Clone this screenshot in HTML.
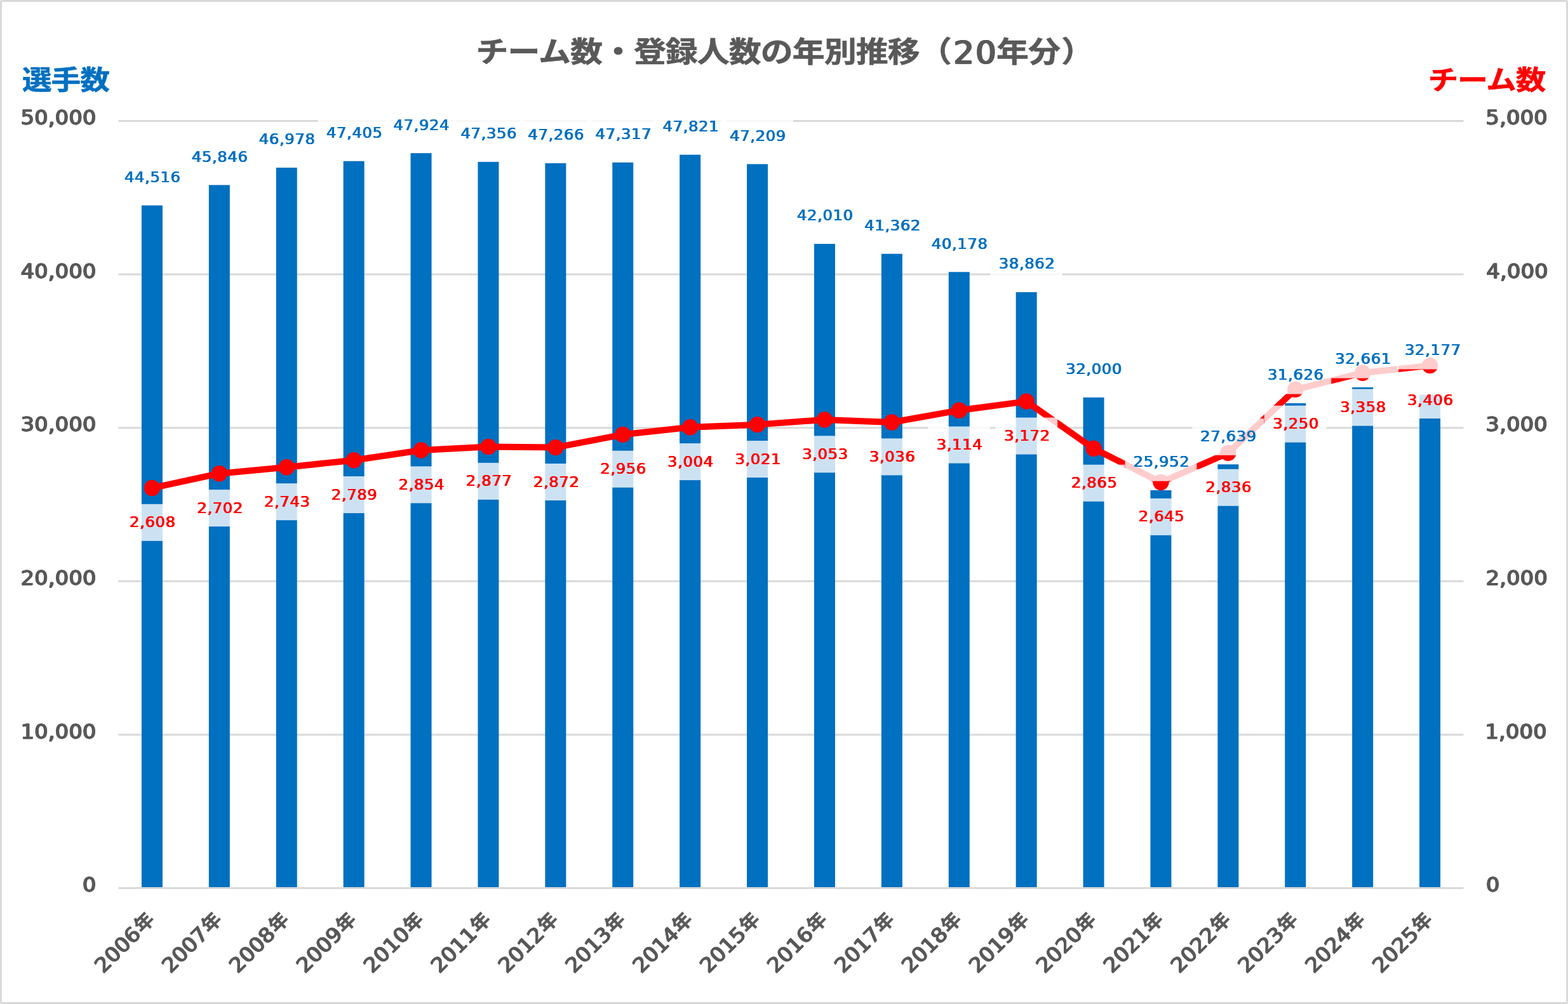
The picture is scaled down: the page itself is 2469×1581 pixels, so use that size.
<!DOCTYPE html>
<html lang="ja">
<head>
<meta charset="utf-8">
<title>チーム数・登録人数の年別推移（20年分）</title>
<style>
html,body{margin:0;padding:0;background:#fff;overflow:hidden}
svg{display:block}
.lab{font-family:"DejaVu Sans","Liberation Sans",sans-serif;font-weight:normal;font-size:23.4px;letter-spacing:0.57px;text-shadow:0.53px 0 0 currentColor,1.06px 0 0 currentColor;}
.ax{font-family:"DejaVu Sans","Liberation Sans",sans-serif;font-weight:normal;font-size:31.9px;letter-spacing:0.32px;text-shadow:0.51px 0 0 currentColor,1.01px 0 0 currentColor;stroke:currentColor;stroke-width:0.85px;stroke-linejoin:round;}
.td{font-family:"DejaVu Sans","Liberation Sans",sans-serif;font-weight:normal;font-size:49.6px;letter-spacing:2.34px;text-shadow:0.98px 0 0 currentColor,1.95px 0 0 currentColor;stroke:currentColor;stroke-width:0.8px;stroke-linejoin:round;}
.j{font-family:"Liberation Sans","Noto Sans CJK JP",sans-serif;font-weight:bold}
.blue{fill:#0070C0;color:#0070C0}
.red{fill:#FF0000;color:#FF0000}
.gray{fill:#595959;color:#595959}
.box{fill:#fff;fill-opacity:0.8}
</style>
</head>
<body>
<svg width="2469" height="1581" viewBox="0 0 2469 1581">
<rect x="0" y="0" width="2469" height="1581" fill="#fff"/>
<rect x="1.45" y="1.45" width="2466.1" height="1578.1" rx="1.2" fill="none" stroke="#D9D9D9" stroke-width="2.9"/>
<g stroke="#D9D9D9" stroke-width="3.0">
<line x1="186.5" y1="190.5" x2="2304.5" y2="190.5"/>
<line x1="186.5" y1="432.1" x2="2304.5" y2="432.1"/>
<line x1="186.5" y1="673.7" x2="2304.5" y2="673.7"/>
<line x1="186.5" y1="915.3" x2="2304.5" y2="915.3"/>
<line x1="186.5" y1="1156.9" x2="2304.5" y2="1156.9"/>
<line x1="186.5" y1="1398.5" x2="2304.5" y2="1398.5"/>
</g>
<g fill="#0070C0">
<rect x="222.95" y="323.49" width="33.0" height="1073.51"/>
<rect x="328.85" y="291.36" width="33.0" height="1105.64"/>
<rect x="434.75" y="264.01" width="33.0" height="1132.99"/>
<rect x="540.65" y="253.7" width="33.0" height="1143.3"/>
<rect x="646.55" y="241.16" width="33.0" height="1155.84"/>
<rect x="752.45" y="254.88" width="33.0" height="1142.12"/>
<rect x="858.35" y="257.05" width="33.0" height="1139.95"/>
<rect x="964.25" y="255.82" width="33.0" height="1141.18"/>
<rect x="1070.15" y="243.64" width="33.0" height="1153.36"/>
<rect x="1176.05" y="258.43" width="33.0" height="1138.57"/>
<rect x="1281.95" y="384.04" width="33.0" height="1012.96"/>
<rect x="1387.85" y="399.69" width="33.0" height="997.31"/>
<rect x="1493.75" y="428.3" width="33.0" height="968.7"/>
<rect x="1599.65" y="460.09" width="33.0" height="936.91"/>
<rect x="1705.55" y="625.88" width="33.0" height="771.12"/>
<rect x="1811.45" y="772" width="33.0" height="625"/>
<rect x="1917.35" y="731.24" width="33.0" height="665.76"/>
<rect x="2023.25" y="634.92" width="33.0" height="762.08"/>
<rect x="2129.15" y="609.91" width="33.0" height="787.09"/>
<rect x="2235.05" y="621.6" width="33.0" height="775.4"/>
</g>
<polyline points="239.45,768.41 345.35,745.7 451.25,735.79 557.15,724.68 663.05,708.97 768.95,703.42 874.85,704.62 980.75,684.33 1086.65,672.73 1192.55,668.63 1298.45,660.9 1404.35,665 1510.25,646.16 1616.15,632.14 1722.05,706.32 1827.95,759.47 1933.85,713.32 2039.75,613.3 2145.65,587.21 2251.55,575.61" fill="none" stroke="#FF0000" stroke-width="10.0" stroke-linejoin="round" stroke-linecap="round"/>
<g fill="#FF0000">
<circle cx="239.45" cy="768.41" r="12.7"/>
<circle cx="345.35" cy="745.7" r="12.7"/>
<circle cx="451.25" cy="735.79" r="12.7"/>
<circle cx="557.15" cy="724.68" r="12.7"/>
<circle cx="663.05" cy="708.97" r="12.7"/>
<circle cx="768.95" cy="703.42" r="12.7"/>
<circle cx="874.85" cy="704.62" r="12.7"/>
<circle cx="980.75" cy="684.33" r="12.7"/>
<circle cx="1086.65" cy="672.73" r="12.7"/>
<circle cx="1192.55" cy="668.63" r="12.7"/>
<circle cx="1298.45" cy="660.9" r="12.7"/>
<circle cx="1404.35" cy="665" r="12.7"/>
<circle cx="1510.25" cy="646.16" r="12.7"/>
<circle cx="1616.15" cy="632.14" r="12.7"/>
<circle cx="1722.05" cy="706.32" r="12.7"/>
<circle cx="1827.95" cy="759.47" r="12.7"/>
<circle cx="1933.85" cy="713.32" r="12.7"/>
<circle cx="2039.75" cy="613.3" r="12.7"/>
<circle cx="2145.65" cy="587.21" r="12.7"/>
<circle cx="2251.55" cy="575.61" r="12.7"/>
</g>
<g class="lab blue">
<rect class="box" x="182.95" y="251.39" width="113.0" height="57.75"/>
<text transform="translate(195.42,286.89) scale(1.04,1)">44,516</text>
<rect class="box" x="288.85" y="219.26" width="113.0" height="57.75"/>
<text transform="translate(301.32,254.76) scale(1.04,1)">45,846</text>
<rect class="box" x="394.75" y="191.91" width="113.0" height="57.75"/>
<text transform="translate(407.29,227.41) scale(1.04,1)">46,978</text>
<rect class="box" x="500.65" y="181.6" width="113.0" height="57.75"/>
<text transform="translate(513.42,217.1) scale(1.04,1)">47,405</text>
<rect class="box" x="606.55" y="169.06" width="113.0" height="57.75"/>
<text transform="translate(618.94,204.56) scale(1.04,1)">47,924</text>
<rect class="box" x="712.45" y="182.78" width="113.0" height="57.75"/>
<text transform="translate(724.92,218.28) scale(1.04,1)">47,356</text>
<rect class="box" x="818.35" y="184.95" width="113.0" height="57.75"/>
<text transform="translate(830.82,220.45) scale(1.04,1)">47,266</text>
<rect class="box" x="924.25" y="183.72" width="113.0" height="57.75"/>
<text transform="translate(936.99,219.22) scale(1.04,1)">47,317</text>
<rect class="box" x="1030.15" y="171.54" width="113.0" height="57.75"/>
<text transform="translate(1042.98,207.04) scale(1.04,1)">47,821</text>
<rect class="box" x="1136.05" y="186.33" width="113.0" height="57.75"/>
<text transform="translate(1148.61,221.83) scale(1.04,1)">47,209</text>
<rect class="box" x="1241.95" y="311.94" width="113.0" height="57.75"/>
<text transform="translate(1254.46,347.44) scale(1.04,1)">42,010</text>
<rect class="box" x="1347.85" y="327.59" width="113.0" height="57.75"/>
<text transform="translate(1360.77,363.09) scale(1.04,1)">41,362</text>
<rect class="box" x="1453.75" y="356.2" width="113.0" height="57.75"/>
<text transform="translate(1466.29,391.7) scale(1.04,1)">40,178</text>
<rect class="box" x="1559.65" y="387.99" width="113.0" height="57.75"/>
<text transform="translate(1572.24,423.49) scale(1.04,1)">38,862</text>
<rect class="box" x="1665.55" y="553.78" width="113.0" height="57.75"/>
<text transform="translate(1677.73,589.28) scale(1.04,1)">32,000</text>
<rect class="box" x="1771.45" y="699.9" width="113.0" height="57.75"/>
<text transform="translate(1784.08,735.4) scale(1.04,1)">25,952</text>
<rect class="box" x="1877.35" y="659.14" width="113.0" height="57.75"/>
<text transform="translate(1889.61,694.64) scale(1.04,1)">27,639</text>
<rect class="box" x="1983.25" y="562.82" width="113.0" height="57.75"/>
<text transform="translate(1995.39,598.32) scale(1.04,1)">31,626</text>
<rect class="box" x="2089.15" y="537.81" width="113.0" height="57.75"/>
<text transform="translate(2101.64,573.31) scale(1.04,1)">32,661</text>
<rect class="box" x="2200" y="523.7" width="113.0" height="57.75"/>
<text transform="translate(2211.46,559.2) scale(1.04,1)">32,177</text>
</g>
<g class="lab red">
<rect class="box" x="190.45" y="793.81" width="98.0" height="58.0"/>
<text transform="translate(203.53,830.31) scale(1.04,1)">2,608</text>
<rect class="box" x="296.35" y="771.1" width="98.0" height="58.0"/>
<text transform="translate(309.81,807.6) scale(1.04,1)">2,702</text>
<rect class="box" x="402.25" y="761.19" width="98.0" height="58.0"/>
<text transform="translate(415.47,797.69) scale(1.04,1)">2,743</text>
<rect class="box" x="508.15" y="750.08" width="98.0" height="58.0"/>
<text transform="translate(521.25,786.58) scale(1.04,1)">2,789</text>
<rect class="box" x="614.05" y="734.37" width="98.0" height="58.0"/>
<text transform="translate(626.98,770.87) scale(1.04,1)">2,854</text>
<rect class="box" x="719.95" y="728.82" width="98.0" height="58.0"/>
<text transform="translate(733.23,765.32) scale(1.04,1)">2,877</text>
<rect class="box" x="825.85" y="730.02" width="98.0" height="58.0"/>
<text transform="translate(839.31,766.52) scale(1.04,1)">2,872</text>
<rect class="box" x="931.75" y="709.73" width="98.0" height="58.0"/>
<text transform="translate(944.76,746.23) scale(1.04,1)">2,956</text>
<rect class="box" x="1037.65" y="698.13" width="98.0" height="58.0"/>
<text transform="translate(1050.54,734.63) scale(1.04,1)">3,004</text>
<rect class="box" x="1143.55" y="694.03" width="98.0" height="58.0"/>
<text transform="translate(1156.88,730.53) scale(1.04,1)">3,021</text>
<rect class="box" x="1249.45" y="686.3" width="98.0" height="58.0"/>
<text transform="translate(1262.63,722.8) scale(1.04,1)">3,053</text>
<rect class="box" x="1355.35" y="690.4" width="98.0" height="58.0"/>
<text transform="translate(1368.33,726.9) scale(1.04,1)">3,036</text>
<rect class="box" x="1461.25" y="671.56" width="98.0" height="58.0"/>
<text transform="translate(1474.14,708.06) scale(1.04,1)">3,114</text>
<rect class="box" x="1567.15" y="657.54" width="98.0" height="58.0"/>
<text transform="translate(1580.58,694.04) scale(1.04,1)">3,172</text>
<rect class="box" x="1673.05" y="731.72" width="98.0" height="58.0"/>
<text transform="translate(1686.36,768.22) scale(1.04,1)">2,865</text>
<rect class="box" x="1778.95" y="784.87" width="98.0" height="58.0"/>
<text transform="translate(1792.26,821.37) scale(1.04,1)">2,645</text>
<rect class="box" x="1884.85" y="738.72" width="98.0" height="58.0"/>
<text transform="translate(1897.86,775.22) scale(1.04,1)">2,836</text>
<rect class="box" x="1990.75" y="638.7" width="98.0" height="58.0"/>
<text transform="translate(2003.77,675.2) scale(1.04,1)">3,250</text>
<rect class="box" x="2096.65" y="612.61" width="98.0" height="58.0"/>
<text transform="translate(2109.69,649.11) scale(1.04,1)">3,358</text>
<rect class="box" x="2202.55" y="601.01" width="98.0" height="58.0"/>
<text transform="translate(2215.53,637.51) scale(1.04,1)">3,406</text>
</g>
<g class="ax gray">
<text transform="translate(32.16,196.2) scale(1.048,1)">50,000</text>
<text transform="translate(32.16,437.8) scale(1.048,1)">40,000</text>
<text transform="translate(32.16,679.4) scale(1.048,1)">30,000</text>
<text transform="translate(32.16,921) scale(1.048,1)">20,000</text>
<text transform="translate(32.16,1162.6) scale(1.048,1)">10,000</text>
<text transform="translate(129.57,1404.2) scale(1.048,1)">0</text>
<text transform="translate(2339.05,196.2) scale(1.048,1)">5,000</text>
<text transform="translate(2339.99,437.8) scale(1.048,1)">4,000</text>
<text transform="translate(2339.08,679.4) scale(1.048,1)">3,000</text>
<text transform="translate(2339.18,921) scale(1.048,1)">2,000</text>
<text transform="translate(2337.95,1162.6) scale(1.048,1)">1,000</text>
<text transform="translate(2339.42,1404.2) scale(1.048,1)">0</text>
</g>
<g class="gray">
<g transform="translate(245.95,1450.4) rotate(-45)"><text class="ax" text-anchor="end" transform="translate(-32,0) scale(1.048,1)">2006</text><text class="j" transform="translate(-30,-1.3) scale(1,1.0)" style="font-size:29.9px;letter-spacing:0px;stroke:currentColor;stroke-width:0.6px">年</text></g>
<g transform="translate(351.85,1450.4) rotate(-45)"><text class="ax" text-anchor="end" transform="translate(-32,0) scale(1.048,1)">2007</text><text class="j" transform="translate(-30,-1.3) scale(1,1.0)" style="font-size:29.9px;letter-spacing:0px;stroke:currentColor;stroke-width:0.6px">年</text></g>
<g transform="translate(457.75,1450.4) rotate(-45)"><text class="ax" text-anchor="end" transform="translate(-32,0) scale(1.048,1)">2008</text><text class="j" transform="translate(-30,-1.3) scale(1,1.0)" style="font-size:29.9px;letter-spacing:0px;stroke:currentColor;stroke-width:0.6px">年</text></g>
<g transform="translate(563.65,1450.4) rotate(-45)"><text class="ax" text-anchor="end" transform="translate(-32,0) scale(1.048,1)">2009</text><text class="j" transform="translate(-30,-1.3) scale(1,1.0)" style="font-size:29.9px;letter-spacing:0px;stroke:currentColor;stroke-width:0.6px">年</text></g>
<g transform="translate(669.55,1450.4) rotate(-45)"><text class="ax" text-anchor="end" transform="translate(-32,0) scale(1.048,1)">2010</text><text class="j" transform="translate(-30,-1.3) scale(1,1.0)" style="font-size:29.9px;letter-spacing:0px;stroke:currentColor;stroke-width:0.6px">年</text></g>
<g transform="translate(775.45,1450.4) rotate(-45)"><text class="ax" text-anchor="end" transform="translate(-32,0) scale(1.048,1)">2011</text><text class="j" transform="translate(-30,-1.3) scale(1,1.0)" style="font-size:29.9px;letter-spacing:0px;stroke:currentColor;stroke-width:0.6px">年</text></g>
<g transform="translate(881.35,1450.4) rotate(-45)"><text class="ax" text-anchor="end" transform="translate(-32,0) scale(1.048,1)">2012</text><text class="j" transform="translate(-30,-1.3) scale(1,1.0)" style="font-size:29.9px;letter-spacing:0px;stroke:currentColor;stroke-width:0.6px">年</text></g>
<g transform="translate(987.25,1450.4) rotate(-45)"><text class="ax" text-anchor="end" transform="translate(-32,0) scale(1.048,1)">2013</text><text class="j" transform="translate(-30,-1.3) scale(1,1.0)" style="font-size:29.9px;letter-spacing:0px;stroke:currentColor;stroke-width:0.6px">年</text></g>
<g transform="translate(1093.15,1450.4) rotate(-45)"><text class="ax" text-anchor="end" transform="translate(-32,0) scale(1.048,1)">2014</text><text class="j" transform="translate(-30,-1.3) scale(1,1.0)" style="font-size:29.9px;letter-spacing:0px;stroke:currentColor;stroke-width:0.6px">年</text></g>
<g transform="translate(1199.05,1450.4) rotate(-45)"><text class="ax" text-anchor="end" transform="translate(-32,0) scale(1.048,1)">2015</text><text class="j" transform="translate(-30,-1.3) scale(1,1.0)" style="font-size:29.9px;letter-spacing:0px;stroke:currentColor;stroke-width:0.6px">年</text></g>
<g transform="translate(1304.95,1450.4) rotate(-45)"><text class="ax" text-anchor="end" transform="translate(-32,0) scale(1.048,1)">2016</text><text class="j" transform="translate(-30,-1.3) scale(1,1.0)" style="font-size:29.9px;letter-spacing:0px;stroke:currentColor;stroke-width:0.6px">年</text></g>
<g transform="translate(1410.85,1450.4) rotate(-45)"><text class="ax" text-anchor="end" transform="translate(-32,0) scale(1.048,1)">2017</text><text class="j" transform="translate(-30,-1.3) scale(1,1.0)" style="font-size:29.9px;letter-spacing:0px;stroke:currentColor;stroke-width:0.6px">年</text></g>
<g transform="translate(1516.75,1450.4) rotate(-45)"><text class="ax" text-anchor="end" transform="translate(-32,0) scale(1.048,1)">2018</text><text class="j" transform="translate(-30,-1.3) scale(1,1.0)" style="font-size:29.9px;letter-spacing:0px;stroke:currentColor;stroke-width:0.6px">年</text></g>
<g transform="translate(1622.65,1450.4) rotate(-45)"><text class="ax" text-anchor="end" transform="translate(-32,0) scale(1.048,1)">2019</text><text class="j" transform="translate(-30,-1.3) scale(1,1.0)" style="font-size:29.9px;letter-spacing:0px;stroke:currentColor;stroke-width:0.6px">年</text></g>
<g transform="translate(1728.55,1450.4) rotate(-45)"><text class="ax" text-anchor="end" transform="translate(-32,0) scale(1.048,1)">2020</text><text class="j" transform="translate(-30,-1.3) scale(1,1.0)" style="font-size:29.9px;letter-spacing:0px;stroke:currentColor;stroke-width:0.6px">年</text></g>
<g transform="translate(1834.45,1450.4) rotate(-45)"><text class="ax" text-anchor="end" transform="translate(-32,0) scale(1.048,1)">2021</text><text class="j" transform="translate(-30,-1.3) scale(1,1.0)" style="font-size:29.9px;letter-spacing:0px;stroke:currentColor;stroke-width:0.6px">年</text></g>
<g transform="translate(1940.35,1450.4) rotate(-45)"><text class="ax" text-anchor="end" transform="translate(-32,0) scale(1.048,1)">2022</text><text class="j" transform="translate(-30,-1.3) scale(1,1.0)" style="font-size:29.9px;letter-spacing:0px;stroke:currentColor;stroke-width:0.6px">年</text></g>
<g transform="translate(2046.25,1450.4) rotate(-45)"><text class="ax" text-anchor="end" transform="translate(-32,0) scale(1.048,1)">2023</text><text class="j" transform="translate(-30,-1.3) scale(1,1.0)" style="font-size:29.9px;letter-spacing:0px;stroke:currentColor;stroke-width:0.6px">年</text></g>
<g transform="translate(2152.15,1450.4) rotate(-45)"><text class="ax" text-anchor="end" transform="translate(-32,0) scale(1.048,1)">2024</text><text class="j" transform="translate(-30,-1.3) scale(1,1.0)" style="font-size:29.9px;letter-spacing:0px;stroke:currentColor;stroke-width:0.6px">年</text></g>
<g transform="translate(2258.05,1450.4) rotate(-45)"><text class="ax" text-anchor="end" transform="translate(-32,0) scale(1.048,1)">2025</text><text class="j" transform="translate(-30,-1.3) scale(1,1.0)" style="font-size:29.9px;letter-spacing:0px;stroke:currentColor;stroke-width:0.6px">年</text></g>
</g>
<g class="gray">
<text class="j" transform="translate(749.5,97.8) scale(1,0.898)" style="font-size:51px;letter-spacing:-1.0px;stroke:currentColor;stroke-width:0.7px">チーム数・登録人数の年別推移（</text>
<g class="td"><text transform="translate(1500.58,100) scale(1.024,1)">20</text></g>
<text class="j" transform="translate(1569.0,97.8) scale(1,0.898)" style="font-size:51px;letter-spacing:-1.0px;stroke:currentColor;stroke-width:0.7px">年分<tspan dx="2.3">）</tspan></text>
</g>
<text class="j blue" transform="translate(35.0,140.6) scale(1,0.894)" style="font-size:46.6px;letter-spacing:-1.0px;stroke:currentColor;stroke-width:0.7px">選手数</text>
<text class="j red" transform="translate(2248.85,140.6) scale(1.019,0.894)" style="font-size:46.6px;letter-spacing:-1.0px;stroke:currentColor;stroke-width:0.7px">チーム数</text>
</svg>
</body>
</html>
